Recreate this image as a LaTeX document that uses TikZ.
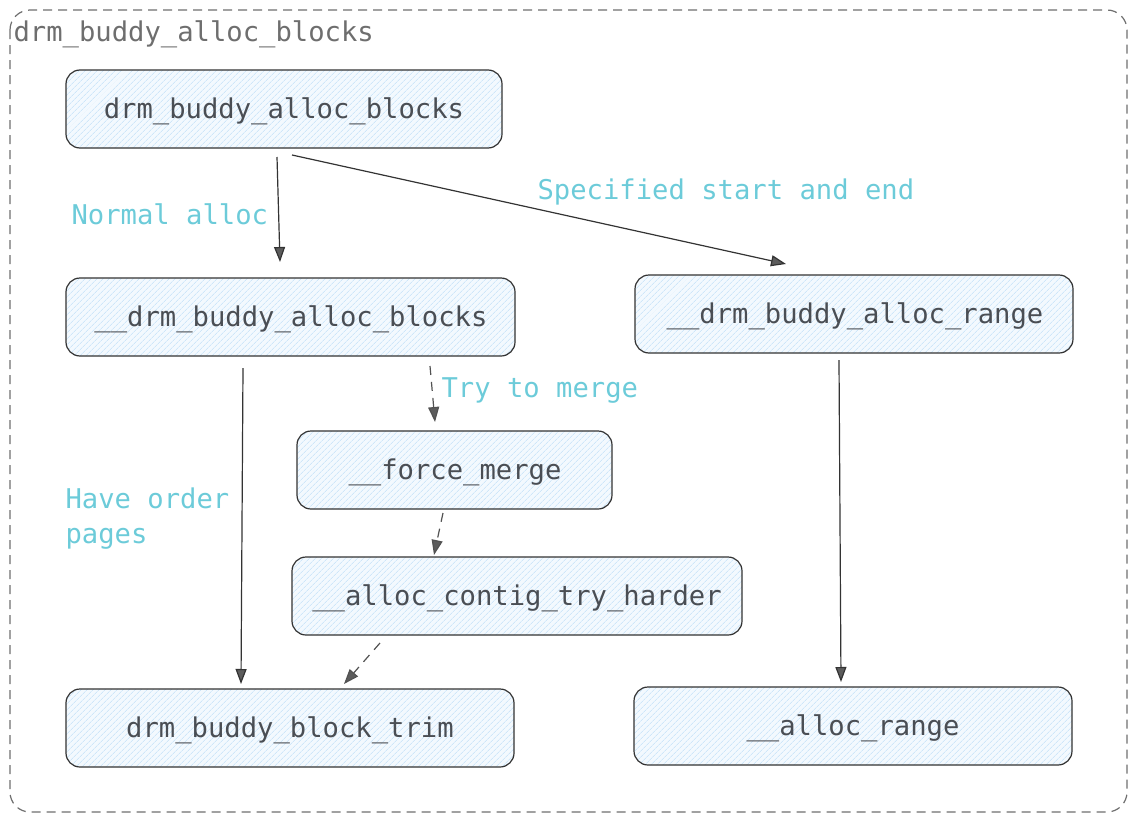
\documentclass[tikz,border=0pt]{standalone}
\usepackage{fontspec}
\setmonofont{DejaVu Sans Mono}
\usetikzlibrary{arrows.meta,patterns.meta}
\definecolor{boxtext}{HTML}{4A4E54}
\definecolor{lbl}{HTML}{6CCBD9}
\definecolor{frame}{HTML}{6E6E6E}
\definecolor{hatch}{HTML}{BBDDF7}
\definecolor{boxfill}{HTML}{F3F9FE}
\definecolor{edge}{HTML}{333333}
\tikzset{
  fnbox/.style={draw=edge, line width=1.2pt, rounded corners=14pt,
    preaction={fill=boxfill},
    pattern={Lines[angle=45,distance=4pt,line width=0.5pt]}, pattern color=hatch},
  fntext/.style={text=boxtext, font=\ttfamily\fontsize{27.2}{32}\selectfont, anchor=center},
  lbltext/.style={text=lbl, font=\ttfamily\fontsize{27.2}{35}\selectfont, anchor=west, align=left},
  conn/.style={draw=edge, line width=1.2pt, -{Triangle[length=15pt,width=11pt,fill=edge!80]}},
  dconn/.style={conn, dash pattern=on 9pt off 7pt, draw=edge!85},
}
\begin{document}
\begin{tikzpicture}[x=1pt,y=-1pt]
\useasboundingbox (0,0) rectangle (1136,822);
% outer frame
\draw[frame, line width=1.2pt, dash pattern=on 9pt off 6pt, rounded corners=20pt] (10,10) rectangle (1127,812);
\node[text=frame, font=\ttfamily\fontsize{27.2}{32}\selectfont, anchor=west] (title) at (10,34) {drm\_buddy\_alloc\_blocks};

% boxes
\draw[fnbox] (66,70) rectangle (502,148);
\node[fntext] (top) at (284,111) {drm\_buddy\_alloc\_blocks};

\draw[fnbox] (66,278) rectangle (515,356);
\node[fntext] (blocks) at (291,319) {\_\_drm\_buddy\_alloc\_blocks};

\draw[fnbox] (635,275) rectangle (1073,353);
\node[fntext] (range) at (855,316) {\_\_drm\_buddy\_alloc\_range};

\draw[fnbox] (297,431) rectangle (612,509);
\node[fntext] (merge) at (455,472) {\_\_force\_merge};

\draw[fnbox] (292,557) rectangle (742,635);
\node[fntext] (harder) at (517,598) {\_\_alloc\_contig\_try\_harder};

\draw[fnbox] (66,689) rectangle (514,767);
\node[fntext] (trim) at (290,730) {drm\_buddy\_block\_trim};

\draw[fnbox] (634,687) rectangle (1072,765);
\node[fntext] (arange) at (853,728) {\_\_alloc\_range};

% connector end points
\coordinate (a1s) at (277,157); \coordinate (a1e) at (280,262);
\coordinate (a2s) at (292,155); \coordinate (a2e) at (786,264);
\coordinate (a3s) at (243,368); \coordinate (a3e) at (241,684);
\coordinate (a4s) at (430,366); \coordinate (a4e) at (435,422);
\coordinate (a5s) at (443,513); \coordinate (a5e) at (434,555);
\coordinate (a6s) at (380,643); \coordinate (a6e) at (344,684);
\coordinate (a7s) at (839,360); \coordinate (a7e) at (841,682);

\draw[conn] (a1s) -- (a1e);
\draw[conn] (a2s) -- (a2e);
\draw[conn] (a3s) -- (a3e);
\draw[dconn] (a4s) -- (a4e);
\draw[dconn] (a5s) -- (a5e);
\draw[dconn] (a6s) -- (a6e);
\draw[conn] (a7s) -- (a7e);

% labels
\node[lbltext] (l1) at (68,214) {Normal alloc};
\node[lbltext] (l2) at (534,192) {Specified start and end};
\node[lbltext] (l3) at (62,519) {Have order\\pages};
\node[lbltext] (l4) at (438,391) {Try to merge};
\end{tikzpicture}
\end{document}
